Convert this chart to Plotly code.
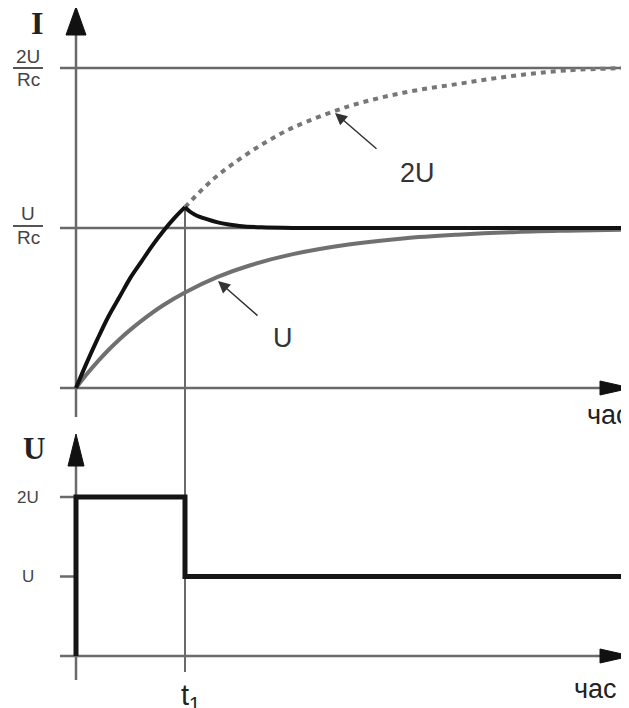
import plotly.graph_objects as go

# ---------------- data ----------------
# time in units of t1
t_black_rise = [0, 0.1, 0.2, 0.3, 0.4, 0.5, 0.6, 0.7, 0.8, 0.9, 1.0]
i_black_rise = [0, 0.16, 0.31, 0.45, 0.57, 0.69, 0.79, 0.89, 0.98, 1.06, 1.13]
t_black_decay = [1.0, 1.05, 1.1, 1.2, 1.3, 1.4, 1.5, 1.7, 2.0, 3.0, 4.0, 5.07]
i_black_decay = [1.13, 1.10, 1.08, 1.055, 1.035, 1.022, 1.013, 1.004, 1.0, 1.0, 1.0, 1.0]

t_dotted = [1.0, 1.25, 1.5, 1.75, 2.0, 2.5, 3.0, 3.5, 4.0, 4.5, 5.07]
i_dotted = [1.13, 1.30, 1.43, 1.54, 1.63, 1.76, 1.845, 1.90, 1.95, 1.985, 2.0]

t_gray = [0, 0.1, 0.2, 0.3, 0.4, 0.5, 0.6, 0.8, 1.0, 1.3, 1.6, 2.0,
          2.5, 3.0, 3.5, 4.0, 4.5, 5.07]
i_gray = [0, 0.087, 0.166, 0.239, 0.305, 0.365, 0.42, 0.517, 0.597, 0.694,
          0.767, 0.838, 0.897, 0.935, 0.958, 0.974, 0.983, 0.99]

t_step = [0, 0, 1.0, 1.0, 5.07]
u_step = [0, 2, 2, 1, 1]

i_levels = [2, 1]            # 2U/Rc, U/Rc
i_level_num = ["2U", "U"]
u_ticks = [2, 1]
u_tick_labels = ["2U", "U"]
t1 = 1.0

# ---------------- geometry helpers ----------------
W, H = 629, 708
OFF = 8                      # page body margin
FW, FH = W - OFF, H - OFF
def px(x):
    return (x - OFF) / FW
def py(y):
    return 1 - (y - OFF) / FH

AX = "#6a6a6a"
TXT = "#333333"
SANS = "Liberation Sans, Arial, sans-serif"
SERIF = "Liberation Serif, Times New Roman, serif"

fig = go.Figure()

fig.add_trace(go.Scatter(x=t_gray, y=i_gray, mode="lines", yaxis="y",
                         line=dict(color="#707070", width=4, shape="spline"),
                         hoverinfo="skip"))
fig.add_trace(go.Scatter(x=t_dotted, y=i_dotted, mode="lines", yaxis="y",
                         line=dict(color="#777777", width=4, dash="5px,5px", shape="spline"),
                         hoverinfo="skip"))
fig.add_trace(go.Scatter(x=t_black_rise, y=i_black_rise, mode="lines", yaxis="y",
                         line=dict(color="#111111", width=4, shape="spline"),
                         hoverinfo="skip"))
fig.add_trace(go.Scatter(x=t_black_decay, y=i_black_decay, mode="lines", yaxis="y",
                         line=dict(color="#111111", width=4, shape="spline"),
                         hoverinfo="skip"))
fig.add_trace(go.Scatter(x=t_step, y=u_step, mode="lines", yaxis="y2",
                         line=dict(color="#151515", width=5),
                         hoverinfo="skip"))

shapes = []
# horizontal level lines in the top panel
for lv in i_levels:
    shapes.append(dict(type="line", xref="paper", yref="y", x0=px(60), x1=1.0,
                       y0=lv, y1=lv, line=dict(color=AX, width=2.5), layer="below"))
# top axes
shapes.append(dict(type="line", xref="paper", yref="paper", x0=px(76), x1=px(76),
                   y0=py(30), y1=py(417), line=dict(color=AX, width=2.5), layer="below"))
shapes.append(dict(type="line", xref="paper", yref="y", x0=px(60), x1=px(605),
                   y0=0, y1=0, line=dict(color=AX, width=2.5), layer="below"))
# bottom axes
shapes.append(dict(type="line", xref="paper", yref="paper", x0=px(76), x1=px(76),
                   y0=py(460), y1=py(680), line=dict(color=AX, width=2.5), layer="below"))
shapes.append(dict(type="line", xref="paper", yref="y2", x0=px(60), x1=px(605),
                   y0=0, y1=0, line=dict(color=AX, width=2.5), layer="below"))
for ut in u_ticks:
    shapes.append(dict(type="line", xref="paper", yref="y2", x0=px(60), x1=px(76),
                       y0=ut, y1=ut, line=dict(color=AX, width=2.5), layer="below"))
# t1 line
shapes.append(dict(type="line", xref="x", yref="paper", x0=t1, x1=t1,
                   y0=py(208), y1=py(672), line=dict(color=AX, width=2), layer="below"))

# arrowheads (triangles)
def tri(pts):
    s = "M " + " L ".join(f"{px(a)},{py(b)}" for a, b in pts) + " Z"
    return dict(type="path", xref="paper", yref="paper", path=s,
                fillcolor="#111111", line=dict(color="#111111", width=1))
shapes.append(tri([(76, 7), (66, 35), (86, 35)]))
shapes.append(tri([(631, 388), (600, 381), (600, 395)]))
shapes.append(tri([(76, 434), (68, 466), (84, 466)]))
shapes.append(tri([(631, 656), (600, 649), (600, 663)]))

# fraction bars
for yb in (68, 226):
    shapes.append(dict(type="line", xref="paper", yref="paper", x0=px(13), x1=px(43),
                       y0=py(yb), y1=py(yb), line=dict(color="#555555", width=2)))

ann = []
def text(x, y, s, size, font=SANS, color=TXT, xanchor="center"):
    ann.append(dict(x=px(x), y=py(y), xref="paper", yref="paper", text=s,
                    showarrow=False, xanchor=xanchor, yanchor="middle",
                    font=dict(family=font, size=size, color=color)))

text(37, 23, "<b>I</b>", 32, font=SERIF, color="#222222")
text(34, 448, "<b>U</b>", 31, font=SERIF, color="#222222")
# fraction labels
text(28, 56, i_level_num[0], 19, color="#444444")
text(28, 79, "Rc", 19, color="#444444")
text(28, 213, i_level_num[1], 19, color="#444444")
text(28, 237, "Rc", 19, color="#444444")
# bottom tick labels
text(28, 498, u_tick_labels[0], 17, color="#444444")
text(28, 576, u_tick_labels[1], 17, color="#444444")
# axis titles
text(585, 415, "час", 27, xanchor="left", color="#222222")
text(572, 689, "час", 27, xanchor="left", color="#222222")
text(190, 697, "t<sub>1</sub>", 29, color="#222222")
# curve labels
text(417, 173, "2U", 27, color="#333333")
text(283, 338, "U", 27, color="#333333")

# pointer arrows
for (tx, ty, sx, sy) in [(335, 113, 378, 150), (218, 281, 259, 317)]:
    ann.append(dict(x=px(tx), y=py(ty), xref="paper", yref="paper", text="",
                    showarrow=True, ax=sx - tx, ay=sy - ty, arrowhead=2,
                    arrowsize=1.6, arrowwidth=1.5, arrowcolor="#333333"))

fig.update_layout(
    width=FW, height=FH,
    margin=dict(l=0, r=0, t=0, b=0),
    paper_bgcolor="white", plot_bgcolor="white",
    showlegend=False,
    xaxis=dict(range=[(OFF - 76) / 109, (W - 76) / 109], visible=False, domain=[0, 1]),
    yaxis=dict(range=[(388 - H) / 160, (388 - OFF) / 160], visible=False, domain=[0, 1]),
    yaxis2=dict(range=[(656 - H) / 79.5, (656 - OFF) / 79.5], visible=False, overlaying="y"),
    shapes=shapes,
    annotations=ann,
)

fig.write_html("out.html")
